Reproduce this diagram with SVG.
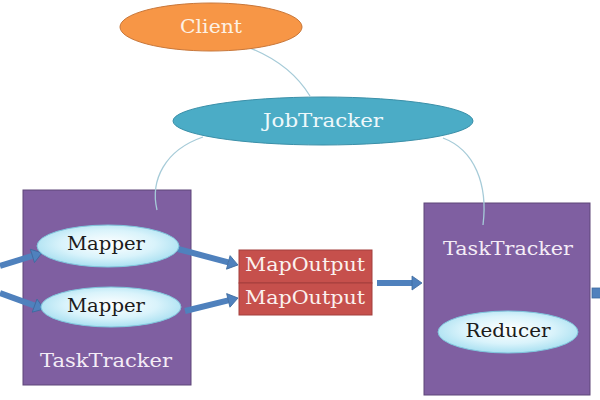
<svg xmlns="http://www.w3.org/2000/svg" width="600" height="400" viewBox="0 0 600 400">
  <defs>
    <radialGradient id="lightBlue" cx="50%" cy="45%" r="60%">
      <stop offset="0%" stop-color="#ffffff"/>
      <stop offset="55%" stop-color="#d9f3fb"/>
      <stop offset="100%" stop-color="#9fdcef"/>
    </radialGradient>
    <marker id="head" markerUnits="userSpaceOnUse" markerWidth="12" markerHeight="16" refX="0" refY="7" orient="auto" overflow="visible">
      <path d="M0,0 L10,7 L0,14 z" fill="#4f81bd" stroke="#3d6a9e" stroke-width="0.8"/>
    </marker>
  </defs>
  <style>
    text { font-family: "DejaVu Serif", "Liberation Serif", serif; text-anchor: middle; font-size: 18px; }
    .light { fill: #f4ecf6; }
    .dark { fill: #1c1c1c; }
    .curve { fill: none; stroke: #a6cbd8; stroke-width: 1.3; }
    .arrow { stroke: #4f81bd; stroke-width: 6; fill: none; marker-end: url(#head); }
    .tt { fill: #7f5fa1; stroke: #5e4679; stroke-width: 1; }
    .ell { fill: url(#lightBlue); stroke: #7fc6dd; stroke-width: 1; }
    .mo { fill: #c6504c; stroke: #a33f3c; stroke-width: 1; }
  </style>
  <rect width="600" height="400" fill="#ffffff"/>

  <g id="tasktracker-left">
    <rect class="tt" x="23" y="190" width="168" height="195"/>
    <text class="light" x="106" y="367" textLength="132" lengthAdjust="spacingAndGlyphs">TaskTracker</text>
  </g>
  <g id="tasktracker-right">
    <rect class="tt" x="424" y="203" width="166" height="192"/>
    <text class="light" x="508" y="255" textLength="130" lengthAdjust="spacingAndGlyphs">TaskTracker</text>
  </g>

  <g id="connectors">
    <path class="curve" d="M225,40 Q285,55 310,96"/>
    <path class="curve" d="M203,137 C165,150 150,180 157,210"/>
    <path class="curve" d="M443,138 C475,150 488,185 483,225"/>
    <line class="arrow" x1="0" y1="266" x2="32.4" y2="255.9"/>
    <line class="arrow" x1="0" y1="293" x2="34.6" y2="305.6"/>
    <line class="arrow" x1="178" y1="249" x2="228.3" y2="262.4"/>
    <line class="arrow" x1="185" y1="311" x2="228.3" y2="300.4"/>
    <line class="arrow" x1="377" y1="283" x2="412" y2="283"/>
    <rect x="592" y="288" width="10" height="10" fill="#4f81bd" stroke="#3d6a9e" stroke-width="0.8"/>
  </g>

  <g id="client">
    <ellipse cx="211" cy="27" rx="91" ry="24" fill="#f79646" stroke="#c8773a" stroke-width="1"/>
    <text x="211" y="33" fill="#fdf1e4" textLength="62" lengthAdjust="spacingAndGlyphs">Client</text>
  </g>
  <g id="jobtracker">
    <ellipse cx="323" cy="121" rx="150" ry="24" fill="#4bacc6" stroke="#3a8fa8" stroke-width="1"/>
    <text x="323" y="127" fill="#eef8fb" textLength="120" lengthAdjust="spacingAndGlyphs">JobTracker</text>
  </g>
  <g id="mapper-1">
    <ellipse class="ell" cx="108" cy="246" rx="71" ry="21"/>
    <text class="dark" x="106" y="250" textLength="78" lengthAdjust="spacingAndGlyphs">Mapper</text>
  </g>
  <g id="mapper-2">
    <ellipse class="ell" cx="111" cy="307" rx="70" ry="20"/>
    <text class="dark" x="106" y="312" textLength="78" lengthAdjust="spacingAndGlyphs">Mapper</text>
  </g>
  <g id="mapoutput-1">
    <rect class="mo" x="239" y="250" width="133" height="33"/>
    <text x="305" y="271" fill="#fbf1ee" textLength="120" lengthAdjust="spacingAndGlyphs">MapOutput</text>
  </g>
  <g id="mapoutput-2">
    <rect class="mo" x="239" y="283" width="133" height="32"/>
    <text x="305" y="304" fill="#fbf1ee" textLength="120" lengthAdjust="spacingAndGlyphs">MapOutput</text>
  </g>
  <g id="reducer">
    <ellipse class="ell" cx="508" cy="332" rx="70" ry="21"/>
    <text class="dark" x="508" y="337" textLength="85" lengthAdjust="spacingAndGlyphs">Reducer</text>
  </g>
</svg>
